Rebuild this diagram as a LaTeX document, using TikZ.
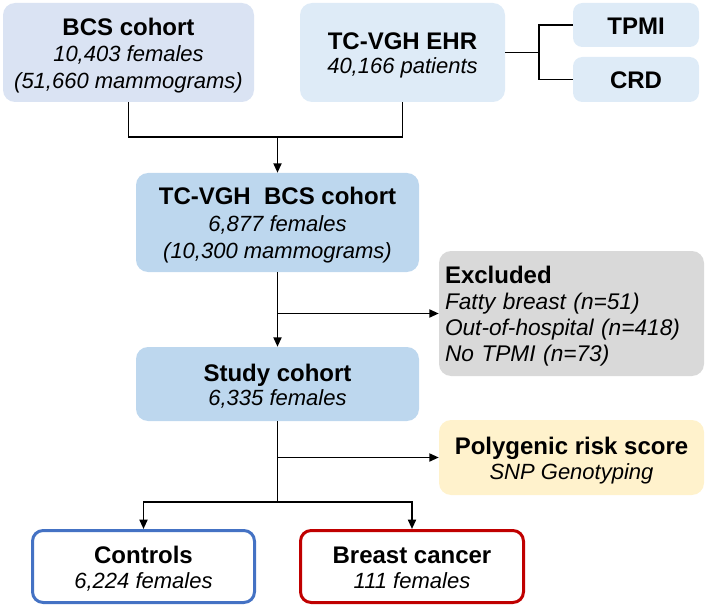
\documentclass[tikz,border=0pt]{standalone}
\usepackage{fontspec}
\setmainfont{Liberation Sans}
\usetikzlibrary{arrows.meta}
\definecolor{bcsfill}{HTML}{DAE3F3}
\definecolor{ehrfill}{HTML}{DEEBF7}
\definecolor{midblue}{HTML}{BDD7EE}
\definecolor{exclfill}{HTML}{D9D9D9}
\definecolor{prsfill}{HTML}{FFF2CC}
\definecolor{ctrlblue}{HTML}{4472C4}
\definecolor{cancred}{HTML}{C00000}
\newcommand\topstrut{\rule{0pt}{18pt}}
\newcommand\botstrut{\rule[-4pt]{0pt}{4pt}}
\newcommand\onestrut{\rule[-4pt]{0pt}{22pt}}
\newcommand\ttl[1]{{\fontsize{18}{18}\selectfont\bfseries\upshape\topstrut#1}}
\tikzset{
  bx/.style={rectangle, rounded corners=9pt, inner sep=0pt, align=center},
  boxsize/.style 2 args={minimum width=#1*0.75pt, minimum height=#2*0.75pt},
  body/.style={font=\fontsize{16.5}{#1}\selectfont\itshape},
  conn/.style={line width=1.3pt, black},
  arr/.style={conn, -{Triangle[length=7pt,width=6pt]}},
  endbox/.style={bx, fill=white, line width=2.25pt, rounded corners=8pt}
}
\begin{document}
\begin{tikzpicture}[x=0.75pt,y=-0.75pt]
\useasboundingbox (0,0) rectangle (708,610);
% boxes
\node[bx, fill=bcsfill, boxsize={251}{99}, body=20pt] (bcs) at (128.5,52.5)
  {\ttl{BCS cohort}\\10,403 females\\(51,660 mammograms)\botstrut};
\node[bx, fill=ehrfill, boxsize={205}{99}, body=18pt] (ehr) at (402.5,52.5)
  {\ttl{TC-VGH EHR}\\40,166 patients\botstrut};
\node[bx, fill=ehrfill, boxsize={126}{44}, body=18pt, rounded corners=7pt] (tpmi) at (636,25)
  {\ttl{\onestrut TPMI}};
\node[bx, fill=ehrfill, boxsize={126}{45}, body=18pt, rounded corners=7pt] (crd) at (636,79.5)
  {\ttl{\onestrut CRD}};
\node[bx, fill=midblue, boxsize={283}{99}, body=20.25pt] (tcbcs) at (277.5,222.5)
  {\ttl{TC-VGH\ \ BCS cohort}\\6,877 females\\(10,300 mammograms)\botstrut};
\node[bx, fill=exclfill, boxsize={265}{125}, text width=189.75pt, align=left, font=\fontsize{17}{19.5}\selectfont\itshape] (excl) at (571.5,313.5)
  {\ttl{Excluded}\\Fatty breast (n=51)\\Out-of-hospital (n=418)\\No TPMI (n=73)\botstrut};
\node[bx, fill=midblue, boxsize={283}{74}, body=18pt] (study) at (277.5,384)
  {\ttl{Study cohort}\\6,335 females\botstrut};
\node[bx, fill=prsfill, boxsize={265}{75}, body=18.75pt] (prs) at (571.5,457.5)
  {\ttl{Polygenic risk score}\\SNP Genotyping\botstrut};
\node[endbox, draw=ctrlblue, boxsize={222}{72}, body=18.75pt] (controls) at (143.5,566.5)
  {\ttl{Controls}\\6,224 females\botstrut};
\node[endbox, draw=cancred, boxsize={223}{72}, body=18.75pt] (cancer) at (412,566.5)
  {\ttl{Breast cancer}\\111 females\botstrut};
% connectors
\coordinate (j1) at (277.5,137);
\draw[conn] (bcs.south) |- (j1) -| (ehr.south);
\draw[arr] (j1) -- (tcbcs.north);
\coordinate (j2) at (539,52.5);
\draw[conn] (ehr.east) -- (j2);
\draw[conn] (tpmi.west) -| (j2) |- (crd.west);
\draw[arr] (tcbcs.south) -- (study.north);
\coordinate (j3) at (tcbcs.south |- excl.west);
\draw[arr] (j3) -- (excl.west);
\coordinate (j5) at (277.5,502);
\draw[conn] (study.south) -- (j5);
\coordinate (j4) at (study.south |- prs.west);
\draw[arr] (j4) -- (prs.west);
\draw[arr] (j5) -| (controls.north);
\draw[arr] (j5) -| (cancer.north);
\end{tikzpicture}
\end{document}
